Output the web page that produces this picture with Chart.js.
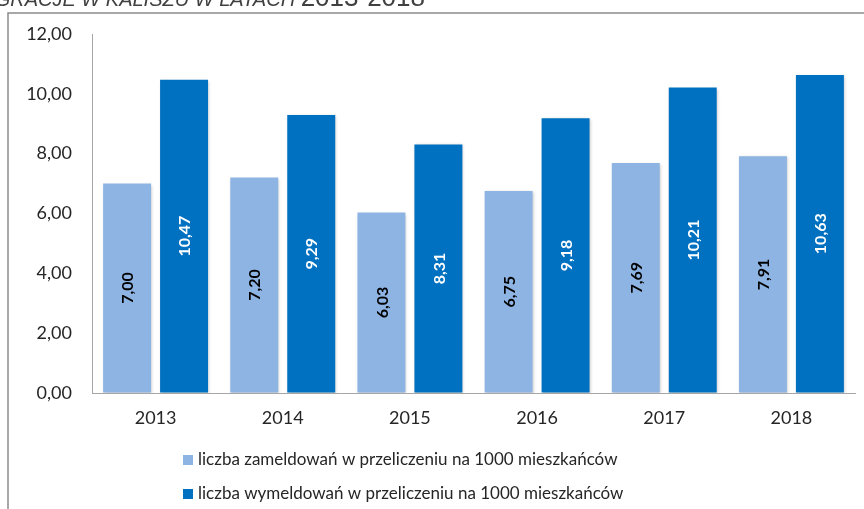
<!DOCTYPE html>
<html>
<head>
<meta charset="utf-8">
<script src="https://cdn.jsdelivr.net/npm/chart.js@4/dist/chart.umd.min.js"></script>
<style>
  html, body { margin: 0; padding: 0; background: #fff; }
  #wrap { position: relative; width: 864px; height: 509px; overflow: hidden; }
  #title { position: absolute; right: 439px; top: -16px; white-space: nowrap;
           font-family: "Liberation Sans", Arial, sans-serif; line-height: 26px; color: #404040; }
  #title .a { font-style: italic; font-size: 20px; }
  #title .b { font-style: normal; font-size: 26px; }
  canvas { position: absolute; left: 0; top: 0; }
</style>
</head>
<body>
<div id="wrap">
  <canvas id="c" width="864" height="509"></canvas>
  <div id="title"><span class="a">MIGRACJE W KALISZU W LATACH </span><span class="b">2013-2018</span></div>
</div>
<script>
const categories = ["2013", "2014", "2015", "2016", "2017", "2018"];
const seriesNames = [
  "liczba zameldowań w przeliczeniu na 1000 mieszkańców",
  "liczba wymeldowań w przeliczeniu na 1000 mieszkańców"
];
const zameldowania = [7.00, 7.20, 6.03, 6.75, 7.69, 7.91];
const wymeldowania = [10.47, 9.29, 8.31, 9.18, 10.21, 10.63];
const yTicks = [0, 2, 4, 6, 8, 10, 12];

const fmt = v => v.toFixed(2).replace('.', ',');
const FONT = 'Lato, sans-serif';

const framePlugin = {
  id: 'frame',
  beforeDraw(chart) {
    const ctx = chart.ctx;
    ctx.save();
    ctx.fillStyle = '#fff';
    ctx.fillRect(0, 0, chart.width, chart.height);
    ctx.strokeStyle = '#8c8c8c';
    ctx.lineWidth = 1.5;
    ctx.beginPath();
    ctx.moveTo(8, chart.height);
    ctx.lineTo(8, 13);
    ctx.lineTo(chart.width, 13);
    ctx.stroke();
    ctx.restore();
  }
};

const shadowPlugin = {
  id: 'barShadow',
  beforeDatasetsDraw(chart) {
    const ctx = chart.ctx;
    ctx.save();
    ctx.shadowColor = 'rgba(0,0,0,0.22)';
    ctx.shadowBlur = 3;
    ctx.shadowOffsetX = 1;
    ctx.shadowOffsetY = 1;
  },
  afterDatasetsDraw(chart) {
    chart.ctx.restore();
  }
};

const labelPlugin = {
  id: 'barLabels',
  afterDatasetsDraw(chart) {
    const ctx = chart.ctx;
    ctx.save();
    ctx.font = 'bold 16px ' + FONT;
    ctx.textAlign = 'center';
    ctx.textBaseline = 'middle';
    chart.data.datasets.forEach((ds, i) => {
      const meta = chart.getDatasetMeta(i);
      meta.data.forEach((bar, j) => {
        const cy = (bar.y + bar.base) / 2;
        ctx.save();
        ctx.translate(bar.x, cy);
        ctx.rotate(-Math.PI / 2);
        ctx.fillStyle = i === 0 ? '#000000' : '#ffffff';
        ctx.fillText(fmt(ds.data[j]), 0, 1);
        ctx.restore();
      });
    });
    ctx.restore();
  }
};

const legendPlugin = {
  id: 'customLegend',
  afterDraw(chart) {
    const ctx = chart.ctx;
    ctx.save();
    ctx.font = '17px ' + FONT;
    ctx.textAlign = 'left';
    ctx.textBaseline = 'middle';
    chart.data.datasets.forEach((ds, i) => {
      const cy = 460 + i * 34;
      ctx.fillStyle = ds.backgroundColor;
      ctx.fillRect(183, cy - 5, 10, 10);
      ctx.fillStyle = '#262626';
      ctx.fillText(ds.label, 198, cy);
    });
    ctx.restore();
  }
};

new Chart(document.getElementById('c'), {
  type: 'bar',
  data: {
    labels: categories,
    datasets: [
      { label: seriesNames[0], data: zameldowania, backgroundColor: '#8EB4E3',
        categoryPercentage: 0.896, barPercentage: 0.842 },
      { label: seriesNames[1], data: wymeldowania, backgroundColor: '#0070C0',
        categoryPercentage: 0.896, barPercentage: 0.842 }
    ]
  },
  options: {
    responsive: false,
    animation: false,
    events: [],
    layout: { padding: { left: 0, right: 9, top: 34, bottom: 0 } },
    plugins: {
      legend: { display: false },
      tooltip: { enabled: false },
      title: { display: false }
    },
    scales: {
      x: {
        grid: { drawOnChartArea: false, drawTicks: false },
        border: { display: true, color: '#a6a6a6', width: 1 },
        ticks: { color: '#262626', font: { family: FONT, size: 18 }, padding: 14 },
        afterFit(scale) { scale.height = 116; }
      },
      y: {
        min: 0, max: 12,
        grid: { drawOnChartArea: false, drawTicks: false },
        border: { display: true, color: '#a6a6a6', width: 1 },
        afterBuildTicks(scale) { scale.ticks = yTicks.map(v => ({ value: v })); },
        ticks: { color: '#262626', font: { family: FONT, size: 18 }, padding: 20,
                 callback: v => fmt(v) },
        afterFit(scale) { scale.width = 92; }
      }
    }
  },
  plugins: [framePlugin, shadowPlugin, labelPlugin, legendPlugin]
});
</script>
</body>
</html>
